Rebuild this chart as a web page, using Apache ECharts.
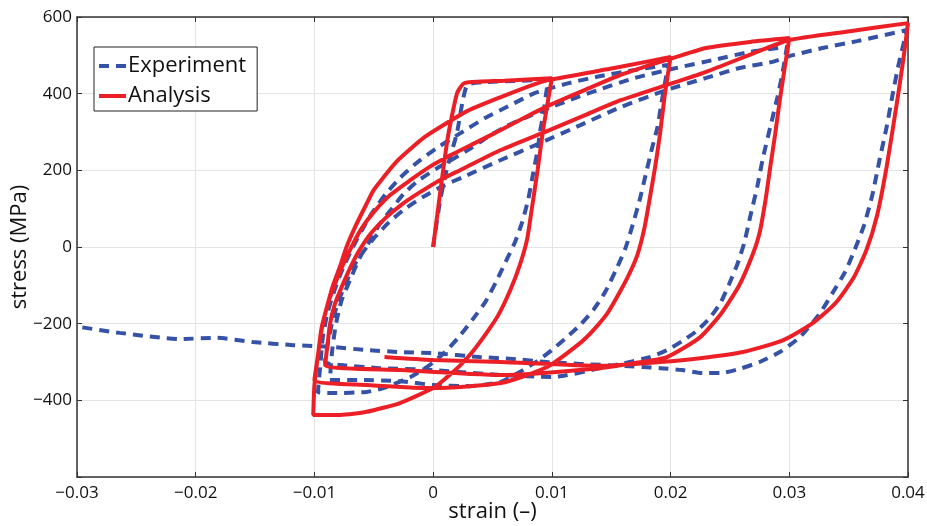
<!DOCTYPE html>
<html>
<head>
<meta charset="utf-8">
<script src="https://cdn.jsdelivr.net/npm/echarts@6/dist/echarts.min.js"></script>
<style>
  html, body { margin: 0; padding: 0; background: #fff; }
  #chart { width: 927px; height: 526px; }
</style>
</head>
<body>
<div id="chart"></div>
<script>
// strain (-) / stress (MPa)
const expStrain = [
  0, 0.0006, 0.0012, 0.0020, 0.0025, 0.0029, 0.0042, 0.0097,
  0.0095, 0.0093, 0.0090, 0.0088, 0.0084, 0.0080, 0.0075, 0.0069, 0.0061, 0.0053, 0.0044, 0.0033, 0.0021, 0.0010, -0.0003, -0.0019, -0.0042, -0.0056, -0.0084, -0.0097,
  -0.0095, -0.0093, -0.0089, -0.0083, -0.0076, -0.0068, -0.0060, -0.0051, -0.0040, -0.0028, -0.0014, 0.0003, 0.0023, 0.0044, 0.0065, 0.0086, 0.0115, 0.0141, 0.0170, 0.0198,
  0.0195, 0.0192, 0.0189, 0.0184, 0.0179, 0.0174, 0.0168, 0.0162, 0.0154, 0.0145, 0.0135, 0.0124, 0.0112, 0.0100, 0.0088, 0.0073, 0.0057, 0.0031, 0, -0.0028, -0.0062, -0.0087,
  -0.0085, -0.0082, -0.0077, -0.0070, -0.0062, -0.0053, -0.0045, -0.0035, -0.0025, -0.0013, 0.0002, 0.0017, 0.0031, 0.0046, 0.0062, 0.0079, 0.0098, 0.0120, 0.0141, 0.0170, 0.0202, 0.0239, 0.0267, 0.0298,
  0.0294, 0.0290, 0.0284, 0.0278, 0.0273, 0.0267, 0.0262, 0.0256, 0.0249, 0.0242, 0.0233, 0.0222, 0.0210, 0.0197, 0.0183, 0.0158, 0.0141, 0.0101, 0.0057, 0, -0.0045, -0.0078, -0.0091,
  -0.0089, -0.0085, -0.0080, -0.0074, -0.0068, -0.0059, -0.0049, -0.0037, -0.0024, -0.0009, 0.0008, 0.0027, 0.0057, 0.0090, 0.0124, 0.0158, 0.0197, 0.0230, 0.0258, 0.0286, 0.0300, 0.0328, 0.0357, 0.0399,
  0.0392, 0.0387, 0.0382, 0.0376, 0.0370, 0.0363, 0.0355, 0.0347, 0.0337, 0.0326, 0.0309, 0.0292, 0.0275, 0.0258, 0.0242, 0.0227, 0.0210, 0.0191, 0.0158, 0.0124, 0.0096, 0.0067, 0.0039, 0, -0.0028, -0.0056, -0.0084, -0.0118, -0.0152, -0.0182, -0.0213, -0.0264, -0.0297
];
const expStress = [
  0, 123, 209, 297, 383, 423, 430, 436,
  397, 350, 300, 253, 188, 123, 65, 13, -39, -91, -143, -190, -237, -274, -308, -339, -368, -378, -381, -378,
  -308, -237, -172, -112, -55, -3, 44, 91, 138, 180, 219, 258, 297, 337, 370, 402, 428, 446, 462, 475,
  423, 370, 313, 253, 188, 123, 57, -3, -60, -117, -164, -203, -237, -269, -297, -326, -352, -363, -360, -350, -347, -347,
  -269, -203, -138, -86, -29, 18, 60, 99, 138, 172, 203, 230, 256, 287, 316, 339, 363, 389, 412, 441, 465, 490, 509, 522,
  449, 391, 313, 235, 157, 78, 10, -47, -99, -146, -185, -219, -245, -269, -287, -305, -316, -339, -334, -321, -316, -308, -300,
  -256, -196, -143, -99, -55, -13, 26, 65, 99, 130, 159, 185, 227, 271, 318, 365, 410, 441, 467, 483, 498, 519, 537, 566,
  475, 397, 313, 227, 136, 57, -8, -65, -117, -172, -235, -274, -300, -318, -329, -329, -321, -316, -310, -305, -300, -292, -287, -277, -274, -269, -261, -256, -248, -237, -240, -224, -209
];

const anaStrain = [
  0, 0.0012, 0.0020, 0.0025, 0.0030, 0.0060, 0.0100,
  0.0093, 0.0088, 0.0083, 0.0079, 0.0073, 0.0065, 0.0055, 0.0045, 0.0033, 0.0023, 0.0010, 0, -0.0028, -0.0056, -0.0078, -0.0101,
  -0.0100, -0.0097, -0.0094, -0.0089, -0.0084, -0.0078, -0.0073, -0.0065, -0.0057, -0.0050, -0.0041, -0.0031, -0.0019, -0.0007, 0.0006, 0.0029, 0.0057, 0.0084, 0.0098, 0.0158, 0.0200,
  0.0195, 0.0191, 0.0187, 0.0183, 0.0178, 0.0172, 0.0164, 0.0155, 0.0147, 0.0135, 0.0124, 0.0096, 0.0057, 0, -0.0056, -0.0100,
  -0.0097, -0.0094, -0.0089, -0.0083, -0.0076, -0.0068, -0.0060, -0.0050, -0.0036, -0.0019, -0.0003, 0.0017, 0.0035, 0.0057, 0.0078, 0.0098, 0.0128, 0.0158, 0.0183, 0.0202, 0.0230, 0.0267, 0.0300,
  0.0292, 0.0288, 0.0284, 0.0280, 0.0275, 0.0269, 0.0258, 0.0243, 0.0225, 0.0197, 0.0169, 0.0141, 0.0057, -0.0028, -0.0091,
  -0.0089, -0.0087, -0.0083, -0.0077, -0.0070, -0.0062, -0.0052, -0.0040, -0.0026, -0.0011, 0.0006, 0.0023, 0.0057, 0.0098, 0.0128, 0.0158, 0.0202, 0.0230, 0.0273, 0.0300, 0.0351, 0.0400,
  0.0396, 0.0391, 0.0382, 0.0374, 0.0365, 0.0354, 0.0339, 0.0320, 0.0295, 0.0261, 0.0225, 0.0191, 0.0141, 0.0057, 0, -0.0041
];
const anaStress = [
  0, 279, 400, 425, 430, 434, 440,
  313, 201, 97, 18, -47, -112, -177, -224, -274, -308, -344, -368, -407, -430, -438, -438,
  -360, -282, -211, -151, -97, -47, 0, 57, 107, 149, 185, 222, 256, 287, 313, 355, 391, 423, 436, 470, 496,
  394, 292, 209, 136, 50, -21, -78, -130, -172, -217, -250, -313, -355, -368, -360, -347,
  -282, -217, -151, -99, -47, 5, 50, 91, 136, 175, 209, 243, 271, 305, 339, 370, 410, 449, 475, 493, 519, 535, 545,
  383, 292, 209, 123, 37, -21, -99, -172, -235, -287, -303, -316, -334, -321, -308,
  -256, -203, -151, -104, -55, -8, 37, 76, 112, 143, 175, 201, 253, 305, 344, 383, 428, 457, 509, 540, 563, 584,
  488, 383, 209, 83, -8, -81, -146, -198, -243, -274, -290, -300, -310, -300, -295, -287
];

const xTicks = [-0.03, -0.02, -0.01, 0, 0.01, 0.02, 0.03, 0.04];
const yTicks = [-600, -400, -200, 0, 200, 400, 600];

const pairs = (xs, ys) => xs.map((x, i) => [x, ys[i]]);
const minus = (s) => s.replace('-', '\u2212');

const font = 'Open Sans';
const axisColor = '#333';
const blue = '#3652a6';
const red = '#ec1f26';

const chart = echarts.init(document.getElementById('chart'));

const frameAxis = {
  type: 'value',
  axisLine: { onZero: false, lineStyle: { color: axisColor, width: 1.5 } },
  axisTick: { inside: true, length: 5, lineStyle: { color: axisColor, width: 1 } },
  axisLabel: { show: false },
  splitLine: { show: false }
};

const option = {
  animation: false,
  backgroundColor: '#fff',
  textStyle: { fontFamily: font },
  grid: { left: 77, right: 19, top: 17, bottom: 49, outerBoundsMode: 'none' },
  legend: {
    orient: 'vertical',
    left: 94,
    top: 47,
    padding: [8, 11, 4, 5],
    itemGap: 8,
    itemWidth: 27,
    itemHeight: 4,
    borderColor: '#222',
    borderWidth: 1,
    backgroundColor: '#fff',
    textStyle: { fontFamily: font, fontSize: 22, color: '#111', padding: [0, 0, 0, -3] },
    data: [
      { name: 'Experiment', icon: 'path://M0,0H10V4H0Z M17,0H27V4H17Z' },
      { name: 'Analysis', icon: 'rect' }
    ]
  },
  xAxis: [
    {
      type: 'value',
      min: xTicks[0],
      max: xTicks[xTicks.length - 1],
      interval: 0.01,
      name: 'strain (\u2013)',
      nameLocation: 'middle',
      nameGap: 24,
      nameMoveOverlap: false,
      nameTextStyle: { fontFamily: font, fontSize: 22, color: '#111' },
      axisLine: { onZero: false, lineStyle: { color: axisColor, width: 1.5 } },
      axisTick: { inside: true, length: 5, lineStyle: { color: axisColor, width: 1 } },
      axisLabel: {
        fontFamily: font, fontSize: 17, color: '#111', margin: 8,
        formatter: (v) => v === 0 ? '0' : minus(v.toFixed(2))
      },
      splitLine: { show: true, lineStyle: { color: '#e4e4e4', width: 1 } }
    },
    Object.assign({}, frameAxis, {
      position: 'top',
      min: xTicks[0],
      max: xTicks[xTicks.length - 1],
      interval: 0.01
    })
  ],
  yAxis: [
    {
      type: 'value',
      min: yTicks[0],
      max: yTicks[yTicks.length - 1],
      interval: 200,
      name: 'stress (MPa)',
      nameLocation: 'middle',
      nameGap: 46,
      nameMoveOverlap: false,
      nameTextStyle: { fontFamily: font, fontSize: 22, color: '#111' },
      axisLine: { onZero: false, lineStyle: { color: axisColor, width: 1.5 } },
      axisTick: { inside: true, length: 5, lineStyle: { color: axisColor, width: 1 } },
      axisLabel: {
        fontFamily: font, fontSize: 17, color: '#111', margin: 5,
        formatter: (v) => v === yTicks[0] ? '' : minus(String(v))
      },
      splitLine: { show: true, lineStyle: { color: '#e4e4e4', width: 1 } }
    },
    Object.assign({}, frameAxis, {
      position: 'right',
      min: yTicks[0],
      max: yTicks[yTicks.length - 1],
      interval: 200
    })
  ],
  series: [
    {
      name: 'Experiment',
      type: 'line',
      data: pairs(expStrain, expStress),
      showSymbol: false,
      symbol: 'none',
      smooth: 0.2,
      color: blue,
      lineStyle: { color: blue, width: 4, type: [10, 7] },
      z: 2
    },
    {
      name: 'Analysis',
      type: 'line',
      data: pairs(anaStrain, anaStress),
      showSymbol: false,
      symbol: 'none',
      smooth: 0.2,
      color: red,
      lineStyle: { color: red, width: 4 },
      z: 3
    }
  ]
};

chart.setOption(option);
</script>
</body>
</html>
